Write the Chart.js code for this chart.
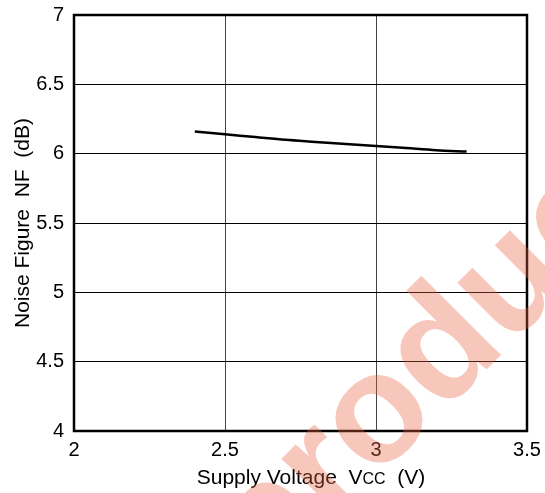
<!DOCTYPE html>
<html>
<head>
<meta charset="utf-8">
<script src="https://cdn.jsdelivr.net/npm/chart.js@4"></script>
<style>
  html, body { margin: 0; padding: 0; background: #fff; }
  #wrap { width: 545px; height: 493px; }
</style>
</head>
<body>
<div id="wrap"><canvas id="chart"></canvas></div>
<script>
const voltage = [2.4, 2.5, 2.6, 2.7, 2.8, 2.9, 3.0, 3.1, 3.2, 3.3];
const noiseFigure = [6.16, 6.14, 6.12, 6.10, 6.085, 6.07, 6.055, 6.04, 6.025, 6.015];
const xTicks = [2, 2.5, 3, 3.5];
const yTicks = [4, 4.5, 5, 5.5, 6, 6.5, 7];

const FONT = '"Liberation Sans", Arial, sans-serif';
Chart.defaults.font.family = FONT;
Chart.defaults.font.size = 20;
Chart.defaults.color = '#000';

// frame, axis titles (with small-cap CC) and the watermark
const decor = {
  id: 'decor',
  afterDraw(chart) {
    const { ctx, chartArea: a } = chart;
    ctx.save();
    ctx.strokeStyle = '#000';
    ctx.lineWidth = 2.5;
    ctx.strokeRect(a.left, a.top, a.right - a.left, a.bottom - a.top);

    ctx.fillStyle = '#000';
    ctx.textBaseline = 'alphabetic';
    const parts = [['Supply Voltage  V', 21], ['CC', 16], ['  (V)', 21]];
    let total = 0;
    for (const [t, s] of parts) { ctx.font = `${s}px ${FONT}`; total += ctx.measureText(t).width; }
    let x = 311 - total / 2;
    ctx.textAlign = 'left';
    for (const [t, s] of parts) {
      ctx.font = `${s}px ${FONT}`;
      ctx.fillText(t, x, 484);
      x += ctx.measureText(t).width;
    }

    ctx.save();
    ctx.translate(29, (a.top + a.bottom) / 2);
    ctx.rotate(-Math.PI / 2);
    ctx.textAlign = 'center';
    ctx.font = `21px ${FONT}`;
    ctx.fillText('Noise Figure  NF  (dB)', 0, 0);
    ctx.restore();

    ctx.translate(265, 591);
    ctx.rotate(-Math.PI / 4);
    ctx.textAlign = 'left';
    ctx.font = `bold 155px ${FONT}`;
    ctx.fillStyle = 'rgba(235, 100, 70, 0.36)';
    ctx.fillText('product', 0, 0);
    ctx.restore();
  },
};

new Chart(document.getElementById('chart'), {
  type: 'line',
  data: {
    datasets: [{
      data: voltage.map((v, i) => ({ x: v, y: noiseFigure[i] })),
      borderColor: '#000',
      borderWidth: 2.5,
      pointRadius: 0,
      cubicInterpolationMode: 'monotone',
      fill: false,
    }],
  },
  options: {
    responsive: true,
    maintainAspectRatio: false,
    animation: false,
    layout: { padding: { top: 15, right: 18, left: 0, bottom: 0 } },
    plugins: { legend: { display: false }, tooltip: { enabled: false } },
    scales: {
      x: {
        type: 'linear',
        min: 2, max: 3.5,
        afterBuildTicks: s => { s.ticks = xTicks.map(v => ({ value: v })); },
        afterFit: s => { s.height = 62; s.paddingLeft = 0; s.paddingRight = 0; },
        grid: { color: '#444', lineWidth: 1, drawTicks: false },
        border: { display: false },
        ticks: { padding: 7, maxRotation: 0, callback: v => String(v) },
      },
      y: {
        min: 4, max: 7,
        afterBuildTicks: s => { s.ticks = yTicks.map(v => ({ value: v })); },
        afterFit: s => { s.width = 74; s.paddingTop = 0; s.paddingBottom = 0; },
        grid: { color: '#000', lineWidth: 1, drawTicks: false },
        border: { display: false },
        ticks: { padding: 10, callback: v => String(v) },
      },
    },
  },
  plugins: [decor],
});
</script>
</body>
</html>
